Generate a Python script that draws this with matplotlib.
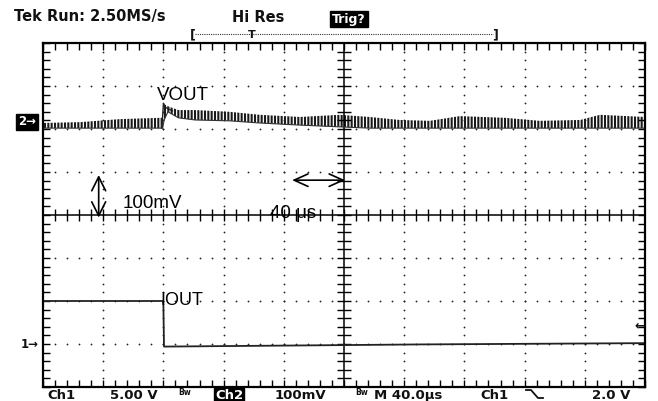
import numpy as np
import matplotlib.pyplot as plt
from matplotlib.lines import Line2D

# time axis in microseconds (40 us/div), vertical axis in divisions from centre
vout_t = [0, 25, 51, 78, 79.5, 80.5, 83, 90, 101, 124, 144, 171, 197, 217, 237, 257, 277, 307, 330, 357, 370, 400]
vout_top = [2.14, 2.16, 2.23, 2.26, 2.26, 2.58, 2.53, 2.44, 2.44, 2.40, 2.33, 2.28, 2.33, 2.28, 2.21, 2.19, 2.30, 2.26, 2.19, 2.21, 2.33, 2.28]
vout_bot = [2.02, 2.02, 2.02, 2.02, 2.02, 2.21, 2.40, 2.26, 2.21, 2.19, 2.14, 2.09, 2.05, 2.02, 2.02, 2.02, 2.02, 2.02, 2.02, 2.02, 2.02, 2.02]

# step edge of vout
edge_t = [79.0, 80.0, 81.5, 86.0]
edge_v = [2.02, 2.58, 2.50, 2.42]

iout_t = [0, 79.6, 80.0, 80.4, 150, 250, 400]
iout = [-2.0, -2.0, -2.1, -3.06, -3.04, -3.01, -2.98]

W, H = 658, 401
fig = plt.figure(figsize=(W / 100, H / 100), dpi=100)
ax = fig.add_axes([43 / W, (H - 387) / H, 602 / W, 344 / H])
ax.set_xlim(0, 400)
ax.set_ylim(-4, 4)

plt.rcParams['hatch.linewidth'] = 1.5

# graticule
ax.set_xticks(np.arange(0, 401, 40))
ax.set_xticks(np.arange(0, 401, 8), minor=True)
ax.set_yticks(np.arange(-4, 4.1, 1))
ax.set_yticks(np.arange(-4, 4.01, 0.2), minor=True)
ax.tick_params(which='both', direction='in', length=5, width=1, top=True, right=True,
               labelbottom=False, labelleft=False, color='k')
for s in ax.spines.values():
    s.set_linewidth(1.6)

xs = np.arange(8, 400, 8)
for yy in [-3, -2, -1, 1, 2, 3]:
    ax.plot(xs, np.full(len(xs), yy), ls='none', marker='o', ms=1.3, mew=0, color='#222')
ys = np.arange(-3.8, 3.9, 0.2)
for xx in [40, 80, 120, 160, 240, 280, 320, 360]:
    ax.plot(np.full(len(ys), xx), ys, ls='none', marker='o', ms=1.3, mew=0, color='#222')

ax.axhline(0, color='k', lw=1.1)
ax.axvline(200, color='k', lw=1.1)
ax.plot(xs, np.zeros(len(xs)), ls='none', marker='|', ms=8, mew=1, color='k')
ax.plot(np.full(len(ys), 200), ys, ls='none', marker='_', ms=10, mew=1, color='k')

# traces
ax.fill_between(vout_t, vout_bot, vout_top, facecolor='none', edgecolor='#1a1a1a',
                hatch='|||||', linewidth=0)
ax.plot(vout_t, vout_bot, color='#333', lw=0.8)
ax.plot(edge_t, edge_v, color='#222', lw=1.0)
ax.plot(iout_t, iout, color='#222', lw=1.3)

# annotations
ann = dict(family='Liberation Sans', color='k')
ax.text(75.7, 2.67, 'VOUT', fontsize=13.5, va='baseline', **ann)
ax.text(77.7, -2.09, 'IOUT', fontsize=13, va='baseline', **ann)
ax.text(53, 0.16, '100mV', fontsize=13.5, va='baseline', **ann)
ax.text(151, -0.07, '40 μs', fontsize=13.5, va='baseline', **ann)
ax.annotate('', xy=(37, 0.93), xytext=(37, -0.06),
            arrowprops=dict(arrowstyle='<->,head_length=1.0,head_width=0.5', color='k', lw=1.2,
                            shrinkA=0, shrinkB=0))
ax.annotate('', xy=(165.5, 0.81), xytext=(200.7, 0.81),
            arrowprops=dict(arrowstyle='<->,head_length=1.0,head_width=0.45', color='k', lw=1.2,
                            shrinkA=0, shrinkB=0))


def px(x, y):
    return x / W, 1 - y / H


scope = dict(family='DejaVu Sans', fontweight='bold', color='#111')

# channel markers
fig.text(*px(18, 122), '2\u2192', fontsize=8.5, va='center', ha='left', **{**scope, 'color': 'white'},
         bbox=dict(boxstyle='square,pad=0.15', facecolor='black', edgecolor='black'))
fig.text(*px(21, 345), '1\u2192', fontsize=8.5, va='center', ha='left', **scope)
fig.text(*px(640, 326), '\u2190', fontsize=9, va='center', ha='center', **scope)

# header
fig.text(*px(14, 17), 'Tek Run: 2.50MS/s', fontsize=10.5, va='center', **scope)
fig.text(*px(232, 17), 'Hi Res', fontsize=10.5, va='center', **scope)
fig.text(*px(332, 19), 'Trig?', fontsize=9, va='center', **{**scope, 'color': 'white'},
         bbox=dict(boxstyle='square,pad=0.15', facecolor='black', edgecolor='black'))
fig.add_artist(Line2D([195 / W, 493 / W], [1 - 34 / H, 1 - 34 / H], transform=fig.transFigure,
                      color='#333', lw=0.8, ls=(0, (1, 1))))
fig.text(*px(193, 35), '[', fontsize=9, va='center', ha='center', **scope)
fig.text(*px(495, 35), ']', fontsize=9, va='center', ha='center', **scope)
fig.text(*px(252, 35), 'T', fontsize=8, va='center', ha='center', **scope)

# footer (sits right on the image edge)
base = 399
fs = 9.5
fig.text(*px(47, base), 'Ch1', fontsize=fs, va='baseline', **scope)
fig.text(*px(110, base), '5.00 V', fontsize=fs, va='baseline', **scope)
fig.text(*px(178, base - 4), 'Bw', fontsize=5.5, va='baseline', **scope)
fig.text(*px(215, base), 'Ch2', fontsize=fs, va='baseline', **{**scope, 'color': 'white'},
         bbox=dict(boxstyle='square,pad=0.05', facecolor='black', edgecolor='black'))
fig.text(*px(275, base), '100mV', fontsize=fs, va='baseline', **scope)
fig.text(*px(355, base - 4), 'Bw', fontsize=5.5, va='baseline', **scope)
fig.text(*px(374, base), 'M 40.0μs', fontsize=fs, va='baseline', **scope)
fig.text(*px(480, base), 'Ch1', fontsize=fs, va='baseline', **scope)
fig.add_artist(Line2D([x / W for x in [526, 531, 538, 543]], [1 - y / H for y in [390, 390, 398, 398]],
                      transform=fig.transFigure, color='#111', lw=1.3))
fig.text(*px(592, base), '2.0 V', fontsize=fs, va='baseline', **scope)

fig.savefig('out.png', dpi=100)
